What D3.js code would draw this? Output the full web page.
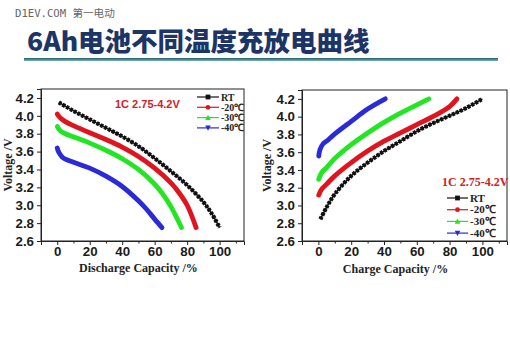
<!DOCTYPE html>
<html>
<head>
<meta charset="utf-8">
<script src="https://cdn.jsdelivr.net/npm/d3@7"></script>
<style>
  html, body { margin: 0; padding: 0; background: #fff; }
  svg { display: block; }
</style>
</head>
<body>
<svg id="chart" width="510" height="339"></svg>
<script>
// ---- data: [capacity %, voltage V] ----
const seriesNames = ["RT", "-20℃", "-30℃", "-40℃"];
const seriesColors = ["#111111", "#e0141e", "#22e622", "#2a2ad8"];

const dischargeRT  = [[1,4.15],[10,4.055],[20,3.96],[30,3.865],[40,3.77],[50,3.66],[60,3.525],[70,3.38],[80,3.225],[90,3.035],[95,2.91],[100,2.75]];
const discharge20  = [[0,4.02],[2,3.975],[5,3.935],[10,3.89],[20,3.81],[30,3.735],[40,3.65],[50,3.545],[60,3.415],[70,3.25],[75,3.14],[80,3.0],[85.5,2.75]];
const discharge30  = [[0,3.88],[2,3.83],[5,3.80],[10,3.765],[20,3.695],[30,3.615],[40,3.52],[50,3.40],[60,3.235],[65,3.125],[70,2.985],[76.5,2.75]];
const discharge40  = [[0,3.64],[1,3.59],[3,3.54],[5,3.515],[10,3.48],[20,3.415],[30,3.325],[40,3.21],[50,3.05],[55,2.955],[60,2.845],[64.5,2.75]];

const chargeRT = [[1.2,2.845],[5,2.98],[10,3.128],[20,3.333],[30,3.482],[40,3.612],[50,3.724],[60,3.835],[70,3.928],[80,4.01],[90,4.096],[100,4.2]];
const charge20 = [[0.2,3.117],[2,3.184],[5,3.24],[10,3.333],[20,3.482],[30,3.612],[40,3.724],[50,3.817],[60,3.91],[70,4.003],[80,4.114],[84.5,4.2]];
const charge30 = [[0.2,3.296],[2,3.37],[5,3.426],[10,3.53],[20,3.686],[30,3.817],[40,3.936],[50,4.04],[60,4.133],[67.3,4.2]];
const charge40 = [[0.2,3.556],[1,3.63],[3,3.698],[5,3.724],[10,3.806],[20,3.947],[30,4.085],[40.8,4.2]];

const xTicks = [0, 20, 40, 60, 80, 100];
const xMinorTicks = [10, 30, 50, 70, 90, 110];
const yTicks = [2.6, 2.8, 3.0, 3.2, 3.4, 3.6, 3.8, 4.0, 4.2];

const titleText = "6Ah电池不同温度充放电曲线";
const siteText = "D1EV.COM 第一电动";
const condText = "1C 2.75-4.2V";

// ---- drawing ----
const svg = d3.select("#chart");

svg.append("text").attr("x", 15).attr("y", 16.5)
  .attr("font-family", "'DejaVu Sans Mono', 'Noto Sans CJK SC', monospace")
  .attr("font-size", 10.6).attr("fill", "#666").text(siteText);

svg.append("text").attr("x", 27).attr("y", 50.5)
  .attr("font-family", "'Noto Sans CJK SC', 'Noto Sans', sans-serif")
  .attr("font-weight", 900).attr("font-size", 26.5).attr("fill", "#1c3566")
  .text(titleText);

const defs = svg.append("defs");
const grad = defs.append("linearGradient").attr("id", "rule").attr("x1", 0).attr("x2", 0).attr("y1", 0).attr("y2", 1);
grad.append("stop").attr("offset", "0%").attr("stop-color", "#1b5f6c");
grad.append("stop").attr("offset", "100%").attr("stop-color", "#7fb3b9");
svg.append("rect").attr("x", 24).attr("y", 58).attr("width", 474).attr("height", 3).attr("fill", "url(#rule)");

function panel(cfg) {
  const x = d3.scaleLinear().domain([-10, 115]).range([cfg.x0, cfg.x1]);
  const y = d3.scaleLinear().domain([2.6, 4.3]).range([cfg.y1, cfg.y0]);
  const g = svg.append("g");

  // frame
  g.append("rect").attr("x", cfg.x0).attr("y", cfg.y0)
    .attr("width", cfg.x1 - cfg.x0).attr("height", cfg.y1 - cfg.y0)
    .attr("fill", "none").attr("stroke", "#222").attr("stroke-width", 1);

  g.append("g").attr("transform", `translate(0,${cfg.y1})`)
    .call(d3.axisBottom(x).tickValues(xTicks).tickFormat(d3.format("d")).tickSize(4).tickPadding(1.5));
  g.append("g").attr("transform", `translate(0,${cfg.y1})`)
    .call(d3.axisBottom(x).tickValues(xMinorTicks).tickFormat("").tickSize(2.5))
    .call(a => a.select(".domain").remove());
  g.append("g").attr("transform", `translate(${cfg.x0},0)`)
    .call(d3.axisLeft(y).tickValues(yTicks).tickFormat(d3.format(".1f")).tickSize(4).tickPadding(3));

  g.selectAll(".domain").attr("stroke", "#222");
  g.selectAll(".tick line").attr("stroke", "#222");
  g.selectAll(".tick text")
    .attr("font-family", "'Liberation Sans', Arial, sans-serif")
    .attr("font-weight", "bold").attr("font-size", 13.3).attr("fill", "#1a1a1a");

  // axis titles
  g.append("text")
    .attr("transform", `translate(${cfg.ylabX},${(cfg.y0 + cfg.y1) / 2}) rotate(-90)`)
    .attr("text-anchor", "middle")
    .attr("font-family", "'Liberation Serif', 'Times New Roman', serif")
    .attr("font-weight", "bold").attr("font-size", 12).attr("fill", "#222")
    .text("Voltage /V");
  g.append("text")
    .attr("x", x(cfg.xlabCenter)).attr("y", cfg.xlabY)
    .attr("text-anchor", "middle")
    .attr("font-family", "'Liberation Serif', 'Times New Roman', serif")
    .attr("font-weight", "bold").attr("font-size", 12).attr("fill", "#222")
    .text(cfg.xlab);

  // curves
  const line = d3.line().x(d => x(d[0])).y(d => y(d[1])).curve(d3.curveCatmullRom.alpha(0.5));
  cfg.series.forEach((data, i) => {
    if (i === 0) {
      // RT: connecting line with dense square markers
      g.append("path").datum(data).attr("d", line)
        .attr("fill", "none").attr("stroke", seriesColors[i]).attr("stroke-width", 1.6);
      g.append("path").datum(data).attr("d", line)
        .attr("fill", "none").attr("stroke", seriesColors[i])
        .attr("stroke-width", 4.2).attr("stroke-dasharray", "3,1.3");
    } else {
      g.append("path").datum(data).attr("d", line)
        .attr("fill", "none").attr("stroke", seriesColors[i])
        .attr("stroke-width", 4.8).attr("stroke-linecap", "round");
    }
  });

  // condition label
  g.append("text").attr("x", cfg.condX).attr("y", cfg.condY)
    .attr("font-family", cfg.condFont)
    .attr("font-weight", "bold").attr("font-size", cfg.condSize).attr("fill", "#d0202a")
    .text(condText);

  // legend
  const lg = g.append("g");
  seriesNames.forEach((name, i) => {
    const yy = cfg.legY + i * cfg.legStep;
    const c = seriesColors[i];
    lg.append("line").attr("x1", cfg.legX).attr("x2", cfg.legX + cfg.legW)
      .attr("y1", yy).attr("y2", yy).attr("stroke", c).attr("stroke-width", 1.2);
    const mx = cfg.legX + cfg.legW / 2;
    const s = 2.4;
    if (i === 0) {
      lg.append("rect").attr("x", mx - s).attr("y", yy - s).attr("width", 2 * s).attr("height", 2 * s).attr("fill", c);
    } else if (i === 1) {
      lg.append("circle").attr("cx", mx).attr("cy", yy).attr("r", s).attr("fill", c);
    } else if (i === 2) {
      lg.append("path").attr("d", `M${mx},${yy - s - 0.4}L${mx + s + 0.4},${yy + s}L${mx - s - 0.4},${yy + s}Z`).attr("fill", c);
    } else {
      lg.append("path").attr("d", `M${mx},${yy + s + 0.4}L${mx + s + 0.4},${yy - s}L${mx - s - 0.4},${yy - s}Z`).attr("fill", c);
    }
    lg.append("text").attr("x", cfg.legX + cfg.legW + 2).attr("y", yy + 3.5)
      .attr("font-family", "'Liberation Serif', 'Times New Roman', serif")
      .attr("font-weight", "bold").attr("font-size", cfg.legSize).attr("fill", "#222")
      .text(name);
  });
}

panel({
  x0: 41, x1: 244, y0: 89, y1: 241,
  ylabX: 12, xlab: "Discharge Capacity /%", xlabCenter: 50, xlabY: 272,
  series: [dischargeRT, discharge20, discharge30, discharge40],
  condX: 115, condY: 108, condSize: 11, condFont: "'Liberation Sans', Arial, sans-serif",
  legX: 197, legW: 22, legY: 97, legStep: 10.3, legSize: 10
});

panel({
  x0: 302, x1: 507, y0: 90, y1: 241,
  ylabX: 271, xlab: "Charge Capacity /%", xlabCenter: 47, xlabY: 273,
  series: [chargeRT, charge20, charge30, charge40],
  condX: 442, condY: 186, condSize: 12, condFont: "'Liberation Serif', 'Times New Roman', serif",
  legX: 447, legW: 21, legY: 198, legStep: 11.7, legSize: 11
});
</script>
</body>
</html>
